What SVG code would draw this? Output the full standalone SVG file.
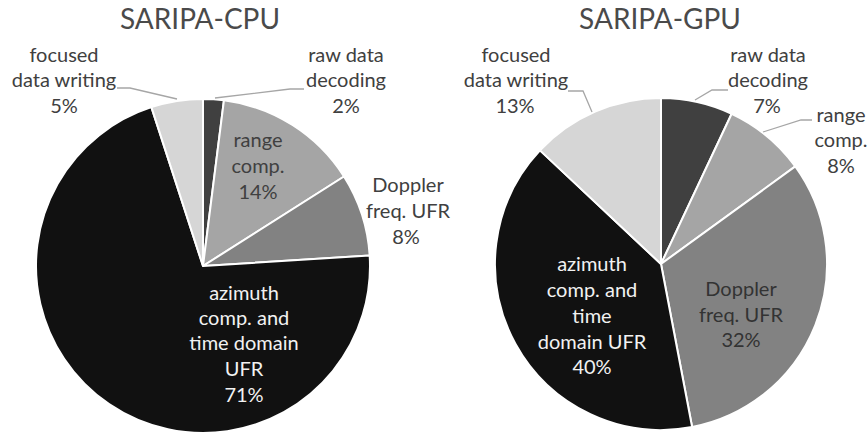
<svg xmlns="http://www.w3.org/2000/svg" width="868" height="437" viewBox="0 0 868 437">
<style>
text{font-family:Lato,"Liberation Sans",sans-serif;font-size:20px;fill:#404040;text-anchor:middle}
.title{font-size:28px;fill:#4a4a4a}
.s{stroke:#fff;stroke-width:2;stroke-linejoin:round}
.raw{fill:#404040}
.rng{fill:#a5a5a5}
.dop{fill:#828282}
.azi{fill:#111}
.foc{fill:#d6d6d6}
.w{fill:#f2f2f2}
.lead{fill:none;stroke:#a6a6a6;stroke-width:1.3}
</style>
<rect width="868" height="437" fill="#fff"/>
<g id="cpu-title"><text class="title" x="200" y="29">SARIPA-CPU</text></g>
<g id="gpu-title"><text class="title" x="660" y="29">SARIPA-GPU</text></g>

<g id="cpu-raw"><path class="s raw" d="M203,266 L203,99 A167,167 0 0 1 223.93,100.32 Z"/>
<text x="346" y="62">raw data</text><text x="346" y="87">decoding</text><text x="346" y="113">2%</text></g>
<g id="cpu-range"><path class="s rng" d="M203,266 L223.93,100.32 A167,167 0 0 1 344,176.52 Z"/>
<text x="258" y="147">range</text><text x="258" y="173">comp.</text><text x="258" y="199">14%</text></g>
<g id="cpu-doppler"><path class="s dop" d="M203,266 L344,176.52 A167,167 0 0 1 369.67,255.51 Z"/>
<text x="408" y="192">Doppler</text><text x="408" y="218">freq. UFR</text><text x="406" y="244">8%</text></g>
<g id="cpu-azimuth"><path class="s azi" d="M203,266 L369.67,255.51 A167,167 0 1 1 151.39,107.17 Z"/>
<text class="w" x="244" y="300">azimuth</text><text class="w" x="244" y="325">comp. and</text><text class="w" x="244" y="350">time domain</text><text class="w" x="244" y="376">UFR</text><text class="w" x="244" y="402">71%</text></g>
<g id="cpu-focused"><path class="s foc" d="M203,266 L151.39,107.17 A167,167 0 0 1 203,99 Z"/>
<text x="64" y="62">focused</text><text x="64" y="87">data writing</text><text x="64" y="113">5%</text></g>

<g id="gpu-raw"><path class="s raw" d="M661,264 L661,98 A166,166 0 0 1 731.68,113.8 Z"/>
<text x="768" y="62">raw data</text><text x="768" y="87">decoding</text><text x="767" y="113">7%</text></g>
<g id="gpu-range"><path class="s rng" d="M661,264 L731.68,113.8 A166,166 0 0 1 795.3,166.43 Z"/>
<text x="841" y="122">range</text><text x="841" y="147">comp.</text><text x="841" y="173">8%</text></g>
<g id="gpu-doppler"><path class="s dop" d="M661,264 L795.3,166.43 A166,166 0 0 1 692.11,427.06 Z"/>
<text x="741" y="296" fill="#333" style="fill:#333">Doppler</text><text x="741" y="322" style="fill:#333">freq. UFR</text><text x="741" y="347" style="fill:#333">32%</text></g>
<g id="gpu-azimuth"><path class="s azi" d="M661,264 L692.11,427.06 A166,166 0 0 1 539.99,150.36 Z"/>
<text class="w" x="592" y="271">azimuth</text><text class="w" x="592" y="297">comp. and</text><text class="w" x="592" y="323">time</text><text class="w" x="592" y="349">domain UFR</text><text class="w" x="592" y="374">40%</text></g>
<g id="gpu-focused"><path class="s foc" d="M661,264 L539.99,150.36 A166,166 0 0 1 661,98 Z"/>
<text x="516" y="62">focused</text><text x="516" y="87">data writing</text><text x="515" y="113">13%</text></g>

<g id="connectors">
<path class="lead" d="M117,88 H130 L177,99"/>
<path class="lead" d="M215,98 L290,89 H304"/>
<path class="lead" d="M568,91 H583 L592,112"/>
<path class="lead" d="M695,100 L712,90 H728"/>
<path class="lead" d="M763,132 L801,120 H812"/>
</g>
</svg>
